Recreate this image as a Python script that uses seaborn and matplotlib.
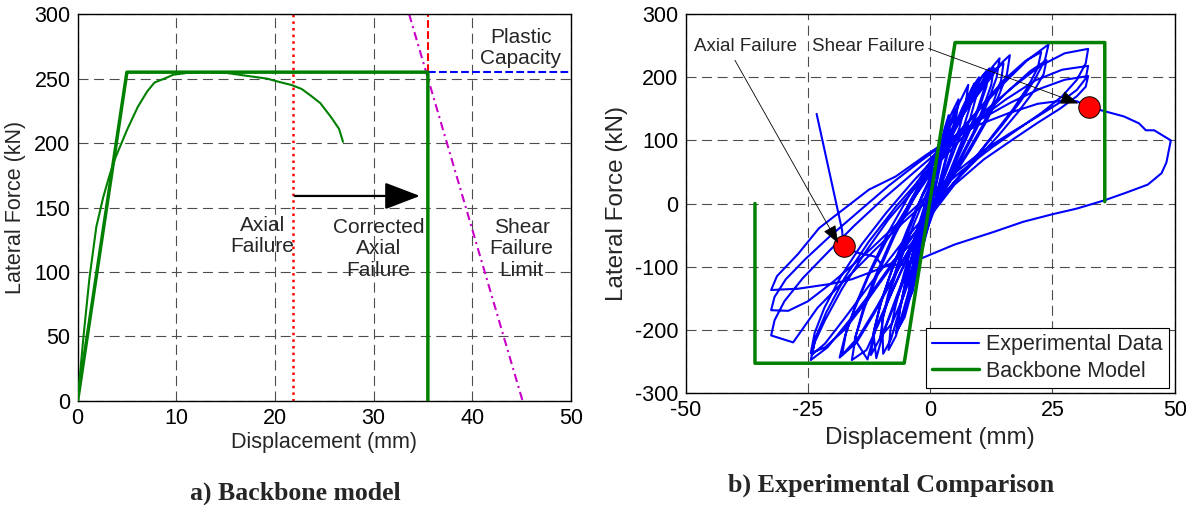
import matplotlib
matplotlib.use("Agg")
import matplotlib.pyplot as plt
import seaborn as sns

# --- a) backbone model ---
bb_a_disp = [0, 5, 35.5, 35.5]
bb_a_force = [0, 255, 255, 0]

mono_disp = [0, 0.6, 1.2, 1.9, 2.6, 3.2, 3.8, 4.4, 5.0, 6.1, 7.05, 7.8, 8.8, 9.7, 11.2, 13, 15,
             17.3, 19.2, 20.4, 21.7, 22.7, 23.6, 24.6, 25.7, 26.5, 26.9]
mono_force = [0, 50, 95, 135, 158, 174, 188, 199, 210, 228, 240, 247, 250, 253, 254.5, 255, 254.5,
              252, 250, 247.5, 245, 242, 237, 231, 220, 211, 201]

axial_fail_disp = 21.8
corrected_disp = 35.5
plastic_cap = 255
shear_disp = [33.6, 45.1]
shear_force = [300, 0]
arrow_force = 159

# --- b) experimental comparison ---
bb_b_disp = [-35.8, -35.8, -5.3, 5.1, 35.7, 35.7]
bb_b_force = [0, -253, -253, 255, 255, 3]

exp_disp = [
    0, 0.8, 1.6, 2.5, 2.2, 1.4, 0.3, -0.8, -1.8, -2.8,
    -2.5, -1.6, -0.4, 0.8, 2.0, 3.0, 3.8, 3.5, 2.6, 1.4, 0, -1.3, -2.6, -3.6, -4.5,
    -4.2, -3.2, -1.8, -0.3, 1.3, 2.8, 4.2, 5.8, 5.4, 4.3, 2.8, 1.2, -0.5, -2.2, -3.8, -5.2, -6.5,
    -6.2, -5, -3.4, -1.5, 0.5, 2.5, 4, 5.2, 4.8, 3.8, 2.3, 0.8, -1, -2.8, -4.5, -6, -7,
    -6.2, -5.2, -3.6, -1.8, 0, 2, 4, 6, 7.8, 7.3, 6.0, 4.3, 2.4, 0.5, -1.5, -3.5, -5.5, -7, -8.5,
    -8.1, -7, -5.3, -3.2, -1, 1.5, 4, 6.5, 8.5, 10, 9.5, 8.2, 6.3, 4, 1.6, -0.8, -3.2, -5.6, -7.8, -10.2,
    -9.6, -8, -5.8, -3.2, -0.5, 2.5, 5.5, 7.5, 9, 8.4, 7, 5, 2.8, 0.5, -2, -4.5, -6.5, -8, -9.6,
    -9.8, -8.6, -6.6, -4.2, -1.5, 1.5, 4.5, 7.5, 10, 12.1, 11.5, 10, 7.8, 5.2, 2.4, -0.5, -3.5, -6.5, -9.3, -12.1,
    -11.4, -9.8, -7.4, -4.6, -1.5, 2, 5.5, 8.5, 10.5, 11.5, 11, 9.5, 7.3, 4.8, 2, -1, -4, -7, -9.6, -11,
    -11.6, -10.2, -8, -5.2, -2, 1.5, 5, 8.5, 11.5, 14.2, 13.6, 12, 9.6, 6.6, 3.3, 0, -3.5, -7, -10.5, -13, -16,
    -15.2, -13.4, -10.6, -7.2, -3.5, 0.5, 4.5, 8, 11, 13, 12.5, 11, 8.8, 6, 3, -0.5, -4, -7.5, -11, -12.8,
    -15.4, -13.8, -11.2, -7.8, -4, 0, 4, 8, 12, 14.5, 16.3, 15.7, 14, 11.5, 8.2, 4.5, 0.8, -3, -7, -11, -14.5, -18,
    -17.2, -15.2, -12.2, -8.5, -4.5, -0.5, 3.5, 7.5, 11, 13.5, 15,
    14.5, 13, 10.6, 7.5, 4, 0.5, -3.5, -7.5, -11.5, -15, -18.5,
    -17.4, -15.6, -12.6, -9, -5, -0.5, 4.5, 10, 15, 19.5, 22.7,
    22, 20, 17, 13, 8.5, 3.5, -1.5, -7, -12.5, -17.5, -21.5, -24.4,
    -23.6, -21.6, -18.2, -14, -9, -3.5, 2.5, 9, 15, 20, 24.2,
    23.5, 21.5, 18.5, 14.5, 10, 5, 0, -5.5, -11, -16.5, -21, -24.4,
    -23.6, -21.5, -18, -13.5, -8.5, -3, 3, 9.5, 15.5, 20.5, 23.8,
    23.2, 21.2, 18, 14, 9.5, 4.5, -0.5, -6, -12, -17.5, -21.5, -24.2,
    -23.4, -21.2, -17.5, -12.5, -7, -1, 5, 11, 17, 22.5, 27.5, 32.3,
    31.8, 30, 27, 23, 18, 12.5, 6.5, 0.5, -5.5, -11.5, -17.5, -23, -28, -32.5,
    -31.8, -29.8, -26, -21, -15.5, -9.5, -3.5, 2.5, 9, 15.5, 21.5, 27, 32.3,
    31.8, 30, 26.5, 22, 16.5, 10.5, 4.5, -1.5, -7.5, -13.5, -19.5, -25, -29, -32.5,
    -31.8, -29.5, -25.5, -20.5, -14.5, -8.5, -2.5, 3.5, 10, 16.5, 22.5, 27.5, 32.3,
    31.8, 30, 26.5, 22, 17, 11, 5, 0, -4, -8, -11.5, -16, -20, -27, -32.5,
    -31.3, -27, -22.7, -17.5, -12.5, -7, -0.8, 3.9, 10, 16, 22, 27, 30, 32.4,
    36.2, 39.6, 42.7, 44.1, 45.8, 47.5, 49.2, 48.3, 47.3, 44.5, 40, 35.6, 30, 25, 19, 13, 5,
    -1.5, -5, -9.5, -11.3, -14.8, -17.7, -18, -23.2,
]
exp_force = [
    0, 35, 70, 95, 75, 40, 0, -40, -80, -100,
    -80, -45, 0, 45, 90, 120, 140, 118, 80, 35, -10, -55, -105, -140, -155,
    -130, -90, -40, 10, 60, 105, 140, 165, 140, 100, 55, 10, -40, -90, -140, -180, -198,
    -165, -125, -75, -20, 35, 85, 125, 150, 125, 90, 45, 0, -50, -105, -155, -190, -205,
    -170, -130, -80, -25, 25, 75, 120, 160, 188, 160, 120, 80, 35, -10, -60, -115, -170, -210, -232,
    -200, -160, -110, -55, 0, 55, 105, 150, 182, 200, 172, 135, 95, 50, 5, -45, -100, -150, -190, -212,
    -180, -135, -85, -30, 20, 75, 125, 160, 190, 160, 125, 85, 40, -5, -60, -120, -175, -215, -238,
    -185, -145, -95, -40, 15, 65, 115, 160, 195, 214, 185, 150, 110, 65, 20, -30, -85, -145, -200, -240,
    -200, -150, -95, -40, 15, 70, 125, 170, 200, 210, 180, 145, 105, 62, 18, -32, -90, -150, -205, -245,
    -205, -160, -110, -55, 5, 60, 115, 165, 205, 230, 200, 165, 120, 75, 30, -15, -65, -125, -190, -232, -248,
    -210, -165, -110, -50, 5, 60, 115, 160, 195, 215, 188, 155, 112, 70, 25, -22, -75, -135, -195, -247,
    -215, -170, -115, -55, 5, 60, 110, 155, 195, 222, 235, 205, 170, 130, 85, 40, -5, -55, -110, -165, -210, -240,
    -205, -160, -105, -45, 10, 60, 108, 152, 190, 214, 222,
    195, 162, 122, 80, 35, -10, -62, -118, -175, -220, -244,
    -210, -170, -115, -60, -10, 40, 95, 150, 195, 226, 240,
    215, 185, 150, 110, 65, 20, -30, -90, -150, -200, -228, -237,
    -205, -165, -115, -65, -15, 35, 85, 140, 190, 228, 252,
    228, 198, 162, 122, 80, 35, -15, -70, -130, -185, -228, -248,
    -220, -185, -135, -80, -25, 25, 75, 128, 175, 210, 227,
    205, 178, 145, 108, 70, 30, -15, -65, -125, -182, -222, -240,
    -212, -172, -118, -60, -5, 48, 98, 145, 185, 218, 238, 245,
    222, 196, 170, 145, 118, 88, 52, 12, -30, -75, -122, -165, -220, -209,
    -185, -155, -118, -78, -35, 8, 48, 88, 128, 165, 195, 212, 218,
    198, 180, 160, 138, 112, 82, 45, 5, -38, -82, -122, -155, -170, -169,
    -148, -120, -88, -52, -12, 28, 64, 98, 132, 160, 182, 196, 202,
    185, 170, 150, 128, 102, 70, 30, -20, -65, -95, -107, -120, -127, -135, -137,
    -115, -80, -39, -8, 22, 43, 77, 101, 125, 143, 158, 163, 162, 153,
    145, 138, 127, 116, 116, 108, 100, 65, 48, 30, 17, 5, -8, -17, -29, -45, -65,
    -86, -95, -100, -84, -78, -68, -42, 142,
]

fail_disp = [-17.7, 32.4]
fail_force = [-68, 153]

GREEN = "#008000"
GRID = dict(color="#4d4d4d", linestyle=(0, (9, 5)), linewidth=0.8)

sns.set_style("white")
plt.rcParams["font.family"] = ["Liberation Sans", "DejaVu Sans"]
plt.rcParams["axes.unicode_minus"] = False

fig = plt.figure(figsize=(11.86, 5.05), dpi=100)
ax1 = fig.add_axes([0.0654, 0.206, 0.416, 0.766])
ax2 = fig.add_axes([0.578, 0.222, 0.4125, 0.750])

# ---------------- panel a ----------------
ax1.axvline(axial_fail_disp, color="red", linestyle=":", lw=1.8, zorder=2)
ax1.vlines(corrected_disp, plastic_cap, 300, color="red", linestyle="--", lw=1.5, zorder=2)
ax1.hlines(plastic_cap, corrected_disp, 50, color="blue", linestyle="--", lw=1.5, zorder=2)
ax1.plot(shear_disp, shear_force, color="#c800c8", linestyle=(0, (4, 2, 1, 2)), lw=1.5, zorder=2)
sns.lineplot(x=mono_disp, y=mono_force, sort=False, estimator=None, color=GREEN, lw=1.5, ax=ax1, zorder=3)
sns.lineplot(x=bb_a_disp, y=bb_a_force, sort=False, estimator=None, color=GREEN, lw=2.5, ax=ax1, zorder=3)
ax1.annotate("", xy=(34.7, arrow_force), xytext=(22, arrow_force),
             arrowprops=dict(arrowstyle="-|>,head_length=1.1,head_width=0.42", color="k", lw=1.6,
                             mutation_scale=20, shrinkA=0, shrinkB=0), zorder=4)

txt = dict(fontsize=15, ha="center", va="center", linespacing=1.15, zorder=5)
ax1.text(18.7, 128, "Axial\nFailure", **txt)
ax1.text(30.5, 118, "Corrected\nAxial\nFailure", **txt)
ax1.text(45, 118, "Shear\nFailure\nLimit", **txt)
ax1.text(44.9, 274, "Plastic\nCapacity", **txt)

ax1.set_xlim(0, 50)
ax1.set_ylim(0, 300)
ax1.set_xticks(range(0, 51, 10))
ax1.set_yticks(range(0, 301, 50))
ax1.set_xlabel("Displacement (mm)", fontsize=15.5)
ax1.set_ylabel("Lateral Force (kN)", fontsize=15.5)
ax1.xaxis.set_label_coords(0.5, -0.08)
ax1.yaxis.set_label_coords(-0.105, 0.5)

# ---------------- panel b ----------------
sns.lineplot(x=exp_disp, y=exp_force, sort=False, estimator=None, color="blue", lw=1.5,
             ax=ax2, label="Experimental Data", zorder=3)
sns.lineplot(x=bb_b_disp, y=bb_b_force, sort=False, estimator=None, color=GREEN, lw=2.5,
             ax=ax2, label="Backbone Model", zorder=4)
ax2.scatter(fail_disp, fail_force, s=240, color="red", edgecolor="k", linewidth=0.7, zorder=6)

arrow_kw = dict(arrowstyle="-|>,head_length=0.8,head_width=0.3", color="k", lw=0.6,
                mutation_scale=14, shrinkA=0, shrinkB=0)
ax2.text(-37.8, 248, "Axial Failure", fontsize=13.5, ha="center", va="center", zorder=7)
ax2.text(-12.6, 248, "Shear Failure", fontsize=13.5, ha="center", va="center", zorder=7)
ax2.annotate("", xy=(-18.8, -63), xytext=(-39.9, 227), arrowprops=arrow_kw, zorder=7)
ax2.annotate("", xy=(30.3, 158.5), xytext=(-0.3, 245.6), arrowprops=arrow_kw, zorder=7)

ax2.set_xlim(-50, 50)
ax2.set_ylim(-300, 300)
ax2.set_xticks([-50, -25, 0, 25, 50])
ax2.set_yticks(range(-300, 301, 100))
ax2.set_xlabel("Displacement (mm)", fontsize=17.5)
ax2.set_ylabel("Lateral Force (kN)", fontsize=17.5)
ax2.xaxis.set_label_coords(0.5, -0.09)
ax2.yaxis.set_label_coords(-0.118, 0.5)

leg = ax2.legend(loc="lower right", bbox_to_anchor=(0.988, 0.013), borderaxespad=0,
                 frameon=True, fancybox=False, edgecolor="k", framealpha=1, fontsize=15.5,
                 handlelength=2.2, handletextpad=0.3, labelspacing=0.25, borderpad=0.3)
leg.get_frame().set_linewidth(0.8)
leg.set_zorder(10)

for ax in (ax1, ax2):
    ax.grid(True, **GRID)
    ax.set_axisbelow(True)
    ax.tick_params(direction="in", length=5, labelsize=15.5, pad=5, colors="k")
    for s in ax.spines.values():
        s.set_color("k")
        s.set_linewidth(1.0)

fig.text(295 / 1186, 1 - 493 / 505, "a) Backbone model", fontsize=18.5, fontweight="bold",
         family="Liberation Serif", ha="center", va="center")
fig.text(891 / 1186, 1 - 485 / 505, "b) Experimental Comparison", fontsize=18.8, fontweight="bold",
         family="Liberation Serif", ha="center", va="center")

fig.savefig("out.png", dpi=100)
